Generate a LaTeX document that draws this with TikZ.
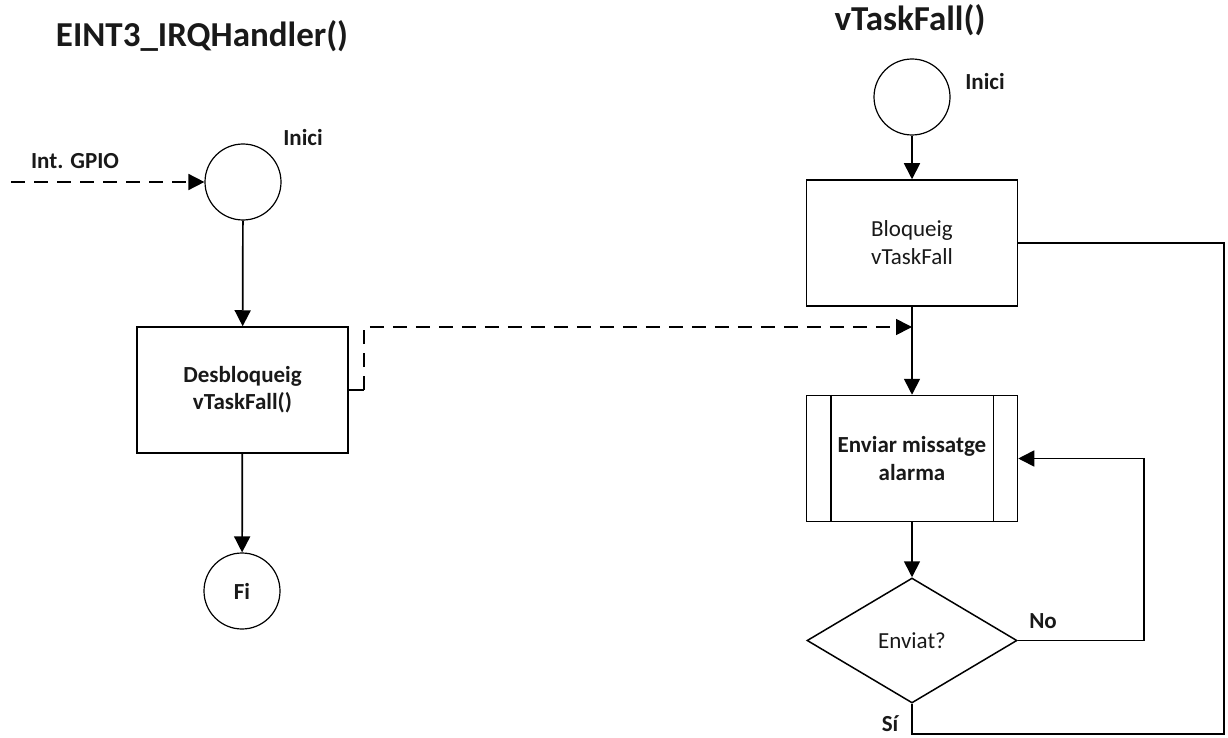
\documentclass[tikz,border=0pt]{standalone}
\usepackage{fontspec}
\setmainfont{Carlito}
\usetikzlibrary{shapes.geometric,arrows.meta}
\begin{document}
\begin{tikzpicture}[x=1pt,y=-1pt,
  txt/.style={font=\fontsize{23}{28}\selectfont, align=center, text=black!90},
  lbl/.style={font=\fontsize{23}{28}\selectfont\bfseries, text=black!90},
  ttl/.style={font=\fontsize{35}{40}\selectfont\bfseries, text=black!90},
  startnode/.style={circle, draw, line width=1.2pt, minimum size=76pt, inner sep=0pt, txt},
  procbox/.style={rectangle, draw, line width=1.5pt, minimum width=211pt, minimum height=126pt, inner sep=0pt, txt},
  decision/.style={diamond, draw, line width=1.5pt, minimum width=210pt, minimum height=125pt, aspect=1.68, inner sep=0pt, txt},
  flow/.style={line width=1.7pt, -{Triangle[length=16pt,width=16pt]}},
  plain/.style={line width=1.7pt},
  signal/.style={line width=1.7pt, dash pattern=on 14pt off 9pt, -{Triangle[length=16pt,width=16pt]}},
]
\useasboundingbox (0,0) rectangle (1228,738);

% titles
\node[ttl] (t1) at (202,36) {EINT3\_IRQHandler()};
\node[ttl] (t2) at (910,20) {vTaskFall()};

% interrupt handler
\node[startnode] (s1) at (243,182) {};
\node[lbl] (s1l) at (303,138) {Inici};
\node[procbox, font=\fontsize{23}{27}\selectfont\bfseries] (d) at (242.5,390) {Desbloqueig\\vTaskFall()};
\node[startnode, font=\fontsize{23}{28}\selectfont\bfseries] (f) at (242,591) {Fi};
\coordinate (gpio) at (11,182);
\node[lbl] (gl) at (75,161) {Int. GPIO};

% task
\node[startnode] (s2) at (912,97) {};
\node[lbl] (s2l) at (985,82) {Inici};
\node[procbox] (b) at (912,243) {Bloqueig\\vTaskFall};
\node[procbox, font=\fontsize{23}{28}\selectfont\bfseries] (e) at (912,458.5) {Enviar missatge\\alarma};
\draw[line width=1.5pt] ([xshift=25pt]e.north west) -- ([xshift=25pt]e.south west)
  ([xshift=-25pt]e.north east) -- ([xshift=-25pt]e.south east);
\node[decision] (q) at (912,640.5) {Enviat?};
\node[lbl] (no) at (1043,621) {No};
\node[lbl] (si) at (890,724) {Sí};

% connectors
\draw[signal] (gpio) -- (s1.west);
\draw[flow] (s1) -- (d);
\draw[flow] (d) -- (f);
\draw[flow] (s2) -- (b);
\draw[flow] (b) -- (e);
\draw[flow] (e) -- (q);

% unblock signal
\coordinate (stub) at ([xshift=15pt]d.east);
\coordinate (join) at (912,327);
\draw[plain] (d.east) -- (stub);
\draw[signal] (stub) |- (join);

% retry loop
\coordinate (nr) at (1144,640.5);
\draw[flow] (q.east) -- (nr) |- (e.east);

% exit loop back to the blocking step
\coordinate (sb) at (912,734);
\coordinate (rc) at (1224,734);
\draw[plain] (q.south) -- (sb) -- (rc) |- (b.east);
\end{tikzpicture}
\end{document}
